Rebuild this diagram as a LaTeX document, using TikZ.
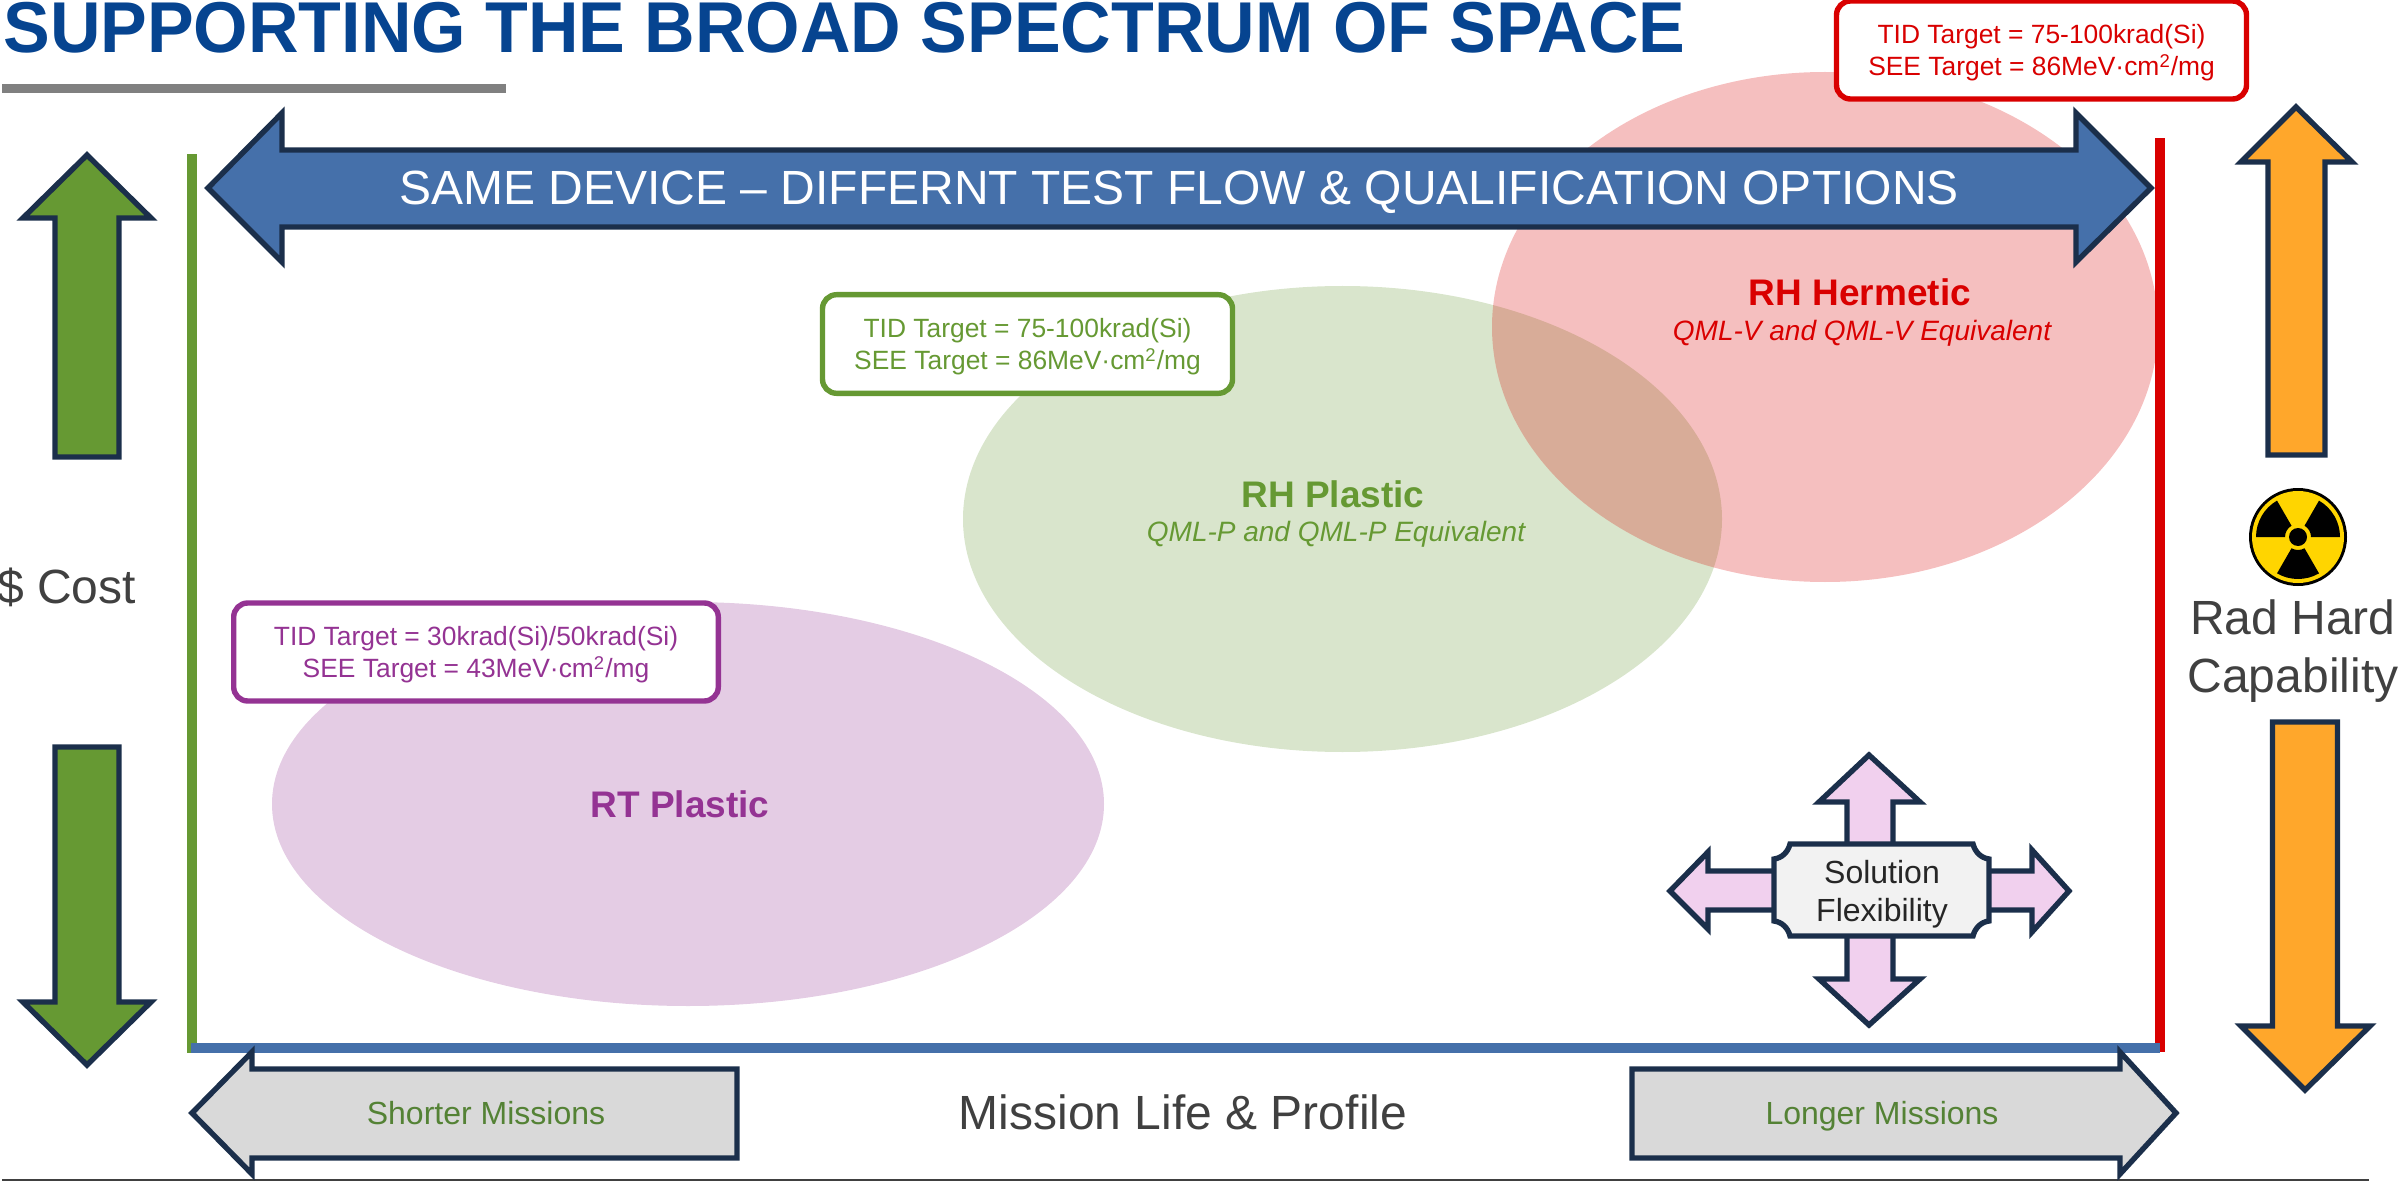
\documentclass[tikz,border=0pt]{standalone}
\usepackage{fontspec}
\setmainfont{Liberation Sans}
\newfontfamily\titlefont[FakeStretch=0.972]{Liberation Sans}
\usepackage{xcolor}
\usetikzlibrary{positioning,shapes}
\definecolor{navy}{HTML}{1B2F4B}
\definecolor{titleblue}{HTML}{064490}
\definecolor{barblue}{HTML}{4570AA}
\definecolor{leafgreen}{HTML}{669933}
\definecolor{hardred}{HTML}{D90000}
\definecolor{plum}{HTML}{943393}
\definecolor{amber}{HTML}{FFA72B}
\definecolor{lilac}{HTML}{F1D0EE}
\definecolor{olive}{HTML}{548235}
\definecolor{bodygrey}{HTML}{404040}
\definecolor{nuke}{HTML}{FFD500}

\begin{document}
\begin{tikzpicture}[x=0.5pt,y=-0.5pt,
        blockarr/.style={draw=navy,line width=2.7pt,line join=miter,miter limit=10},
        blob/.style={ellipse,inner sep=0pt,fill opacity=.25,anchor=center},
        tgtbox/.style={draw,line width=2.7pt,fill=white,rounded corners=7pt,align=center,
            font=\fontsize{13.2}{16.4}\selectfont,inner sep=0pt,text depth=0pt},
        blobname/.style={font=\fontsize{18.5}{21}\selectfont\bfseries},
        blobnote/.style={font=\fontsize{14}{17}\selectfont\itshape},
        bigtext/.style={text=bodygrey,align=center,font=\fontsize{24}{29}\selectfont},
        missiontext/.style={text=olive,font=\fontsize{16}{19}\selectfont}]
    \useasboundingbox (0,0) rectangle (2400,1182);

    % title
    \node[anchor=base west,inner sep=0pt,text=titleblue,font=\fontsize{36}{44}\titlefont\bfseries] (title) at (3,53)
        {SUPPORTING THE BROAD SPECTRUM OF SPACE};
    \fill[gray] (2,84) rectangle (506,93);
    \draw[bodygrey,line width=.8pt] (2,1180) -- (2369,1180);

    % regions
    \node[blob,fill=leafgreen,minimum width=759pt/2,minimum height=466pt/2] (rhplastic) at (1342.5,519) {};
    \node[blob,fill=hardred,minimum width=666pt/2,minimum height=510pt/2] (rhherm) at (1825,327) {};
    \node[blob,fill=plum,minimum width=832pt/2,minimum height=404pt/2] (rtplastic) at (688,804) {};

    \node[blobname,text=hardred] (rhname) at (1860,292) {RH Hermetic};
    \node[blobnote,text=hardred] (rhnote) at (1862,333) {QML-V and QML-V Equivalent};
    \node[blobname,text=leafgreen] (rpname) at (1333,494) {RH Plastic};
    \node[blobnote,text=leafgreen] (rpnote) at (1336,534) {QML-P and QML-P Equivalent};
    \node[blobname,text=plum] (rtname) at (680,804) {RT Plastic};

    % axes
    \fill[leafgreen] (187,154) rectangle (197,1053);
    \fill[hardred] (2155,138) rectangle (2165,1052);
    \fill[barblue] (191,1043) rectangle (2160,1053);

    % banner
    \draw[blockarr,fill=barblue] (208,188) -- (282,113) -- (282,150) -- (2076,150) -- (2076,113) -- (2151,188)
        -- (2076,262) -- (2076,227) -- (282,227) -- (282,262) -- cycle;
    \node[text=white,font=\fontsize{24}{29}\selectfont] (banner) at (1179,192)
        {SAME DEVICE -- DIFFERNT TEST FLOW \& QUALIFICATION OPTIONS};

    % target boxes
    \node[tgtbox,draw=hardred,text=hardred,minimum width=205pt,minimum height=49pt] (rhtgt) at (2041.5,50)
        {TID Target = 75-100krad(Si)\\SEE Target = 86MeV·cm\textsuperscript{2}/mg};
    \node[tgtbox,draw=leafgreen,text=leafgreen,minimum width=205pt,minimum height=49.3pt] (rptgt) at (1027.5,344)
        {TID Target = 75-100krad(Si)\\SEE Target = 86MeV·cm\textsuperscript{2}/mg};
    \node[tgtbox,draw=plum,text=plum,minimum width=242.3pt,minimum height=49pt] (rttgt) at (476,652)
        {TID Target = 30krad(Si)/50krad(Si)\\SEE Target = 43MeV·cm\textsuperscript{2}/mg};

    % cost arrows
    \draw[blockarr,fill=leafgreen] (87,155) -- (151,218) -- (119,218) -- (119,457) -- (55,457) -- (55,218) -- (23,218) -- cycle;
    \draw[blockarr,fill=leafgreen] (55,747) -- (119,747) -- (119,1002) -- (151,1002) -- (87,1065) -- (23,1002) -- (55,1002) -- cycle;
    \node[bigtext,anchor=base west] (cost) at (-10,603) {\$ Cost};

    % capability arrows
    \draw[blockarr,fill=amber] (2296,107) -- (2352,162) -- (2325,162) -- (2325,455) -- (2268,455) -- (2268,162) -- (2241,162) -- cycle;
    \draw[blockarr,fill=amber] (2272.5,722) -- (2337.5,722) -- (2337.5,1026) -- (2370,1026) -- (2305,1090) -- (2241,1026) -- (2272.5,1026) -- cycle;
    \node[bigtext] (radhard) at (2293,651) {Rad Hard\\Capability};

    % radiation sign
    \fill[black] (2298,537) circle (24.5pt);
    \fill[nuke] (2298,537) circle (23pt);
    \fill[black] (2298,537) circle (4.5pt);
    \foreach \a in {0,120,240} {
        \fill[black,shift={(2298,537)},rotate=\a] (0:6.5pt) -- (0:21pt) arc[start angle=0,end angle=60,radius=21pt] -- (60:6.5pt)
            arc[start angle=60,end angle=0,radius=6.5pt] -- cycle;
    }

    % flexibility
    \draw[blockarr,fill=lilac] (1869,755) -- (1920,802) -- (1893,802) -- (1893,850) -- (1847,850) -- (1847,802) -- (1819,802) -- cycle;
    \draw[blockarr,fill=lilac] (1847,930) -- (1893,930) -- (1893,979) -- (1920,979) -- (1869,1025) -- (1819,979) -- (1847,979) -- cycle;
    \draw[blockarr,fill=lilac] (1670,891) -- (1708,852) -- (1708,871) -- (1780,871) -- (1780,910) -- (1708,910) -- (1708,929) -- cycle;
    \draw[blockarr,fill=lilac] (1985,871) -- (2032,871) -- (2032,850) -- (2069,891) -- (2032,932) -- (2032,910) -- (1985,910) -- cycle;
    \draw[blockarr,fill=black!5] (1790,844) -- (1973,844) .. controls (1975,852) and (1981,858) .. (1989,859)
        -- (1989,921) .. controls (1981,922) and (1975,928) .. (1973,936)
        -- (1790,936) .. controls (1788,928) and (1782,922) .. (1774,921)
        -- (1774,859) .. controls (1782,858) and (1788,852) .. (1790,844) -- cycle;
    \node[align=center,text=black!85,font=\fontsize{16}{19}\selectfont] (flex) at (1882,894) {Solution\\Flexibility};

    % mission arrows
    \draw[blockarr,fill=black!15] (192,1113) -- (252,1052) -- (252,1069) -- (737,1069) -- (737,1158) -- (252,1158) -- (252,1174) -- cycle;
    \draw[blockarr,fill=black!15] (1632,1069) -- (2120,1069) -- (2120,1052) -- (2176,1113) -- (2120,1174) -- (2120,1158) -- (1632,1158) -- cycle;
    \node[missiontext] (shorter) at (486,1113) {Shorter Missions};
    \node[missiontext] (longer) at (1882,1116) {Longer Missions};
    \node[bigtext] (mission) at (1183,1112) {Mission Life \& Profile};
\end{tikzpicture}
\end{document}
